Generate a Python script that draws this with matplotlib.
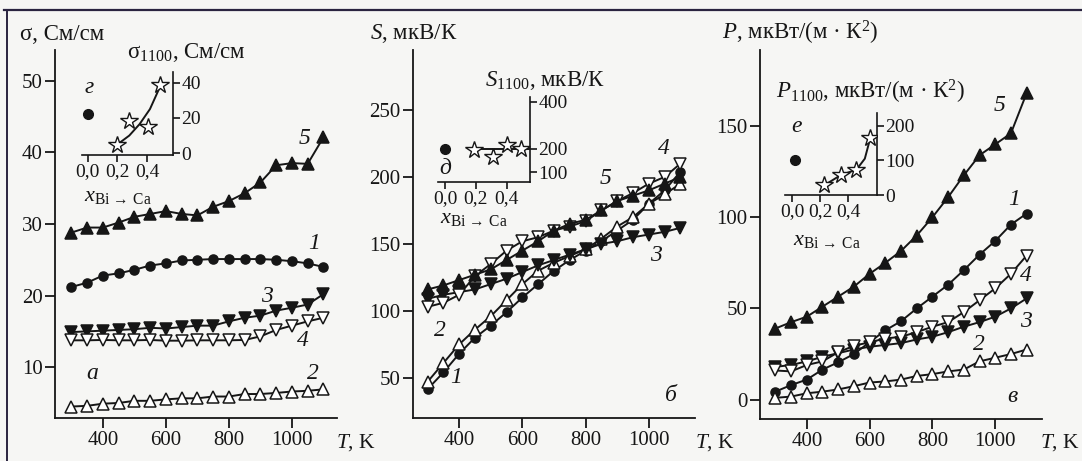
import numpy as np
import matplotlib.pyplot as plt
from matplotlib.lines import Line2D

plt.rcParams['font.family'] = ['Liberation Serif', 'DejaVu Serif']
plt.rcParams['mathtext.fontset'] = 'custom'
plt.rcParams['mathtext.rm'] = 'Liberation Serif'
plt.rcParams['mathtext.it'] = 'Liberation Serif:italic'
plt.rcParams['mathtext.bf'] = 'Liberation Serif:bold'

# temperature grid, K
T = [300, 350, 400, 450, 500, 550, 600, 650, 700, 750, 800, 850, 900, 950, 1000, 1050, 1100]

# (a) conductivity, См/см
sigma_1 = [21.2, 21.8, 22.8, 23.1, 23.6, 24.2, 24.5, 24.9, 25.0, 25.1, 25.1, 25.1, 25.1, 25.0, 24.8, 24.5, 24.0]
sigma_2 = [4.5, 4.6, 4.9, 5.0, 5.3, 5.3, 5.5, 5.65, 5.65, 5.9, 5.9, 6.25, 6.25, 6.4, 6.6, 6.7, 6.9]
sigma_3 = [14.9, 15.0, 15.1, 15.2, 15.3, 15.5, 15.4, 15.6, 15.8, 15.8, 16.4, 16.9, 17.2, 17.9, 18.3, 18.75, 20.2]
sigma_4 = [13.75, 13.75, 13.8, 13.75, 13.75, 13.8, 13.7, 13.7, 13.75, 13.75, 13.75, 13.8, 14.3, 15.2, 15.8, 16.4, 16.9]
sigma_5 = [28.8, 29.5, 29.5, 30.2, 31.0, 31.4, 31.8, 31.4, 31.2, 32.4, 33.2, 34.3, 35.8, 38.2, 38.5, 38.4, 42.1]

# (б) Seebeck coefficient, мкВ/К
seebeck_1 = [41.5, 54, 68, 80, 89, 99, 110, 120, 130, 138, 145, 152, 160, 168, 180, 190, 204]
seebeck_2 = [47, 61, 75, 86, 96, 108, 120, 130, 136, 141, 146, 154, 163, 170, 180, 187, 195]
seebeck_3 = [109, 112, 114, 116, 120, 124, 129, 134, 138, 142, 146, 150, 152, 155, 157, 159, 162]
seebeck_4 = [103, 106, 112, 126, 135, 145, 152, 155, 160, 163, 167, 175, 182, 188, 195, 200, 210]
seebeck_5 = [116, 119, 123, 127, 131, 138, 145, 152, 160, 165, 168, 175, 182, 186, 190, 195, 200]

# (в) power factor, мкВт/(м·К²)
power_1 = [4.4, 8, 11, 16.5, 20.5, 25, 31.5, 38, 43, 50, 56.5, 63, 71, 79.5, 87, 96, 102]
power_2 = [1, 1.7, 3.5, 4.4, 5.6, 7.4, 9.4, 10, 11, 13, 14, 15.5, 16.5, 21, 23, 25, 27.5]
power_3 = [18, 19, 21, 23.5, 25.5, 27.5, 29, 30, 31, 33, 34.5, 37, 40, 42.5, 45.5, 50, 55.5]
power_4 = [16, 15.5, 19, 21, 26, 29.5, 31.5, 33.5, 34.5, 37, 40, 42.5, 48, 54.5, 61, 69, 79]
power_5 = [39, 42.5, 45.5, 51, 56.5, 62, 69, 75, 81.5, 90, 100, 111, 123, 134, 140, 146, 168]

# insets: values at 1100 K vs Bi->Ca substitution
x_ref = [0.0]
x_sub = [0.2, 0.28, 0.41, 0.49]
sigma_ref = [22]
sigma_sub = [4.9, 18.4, 14.6, 38.4]
sigma_fit_x = [0.2, 0.28, 0.35, 0.42, 0.49]
sigma_fit_y = [5, 10, 16.5, 25, 38]

seebeck_x_sub = [0.19, 0.31, 0.40, 0.49]
seebeck_ref = [200]
seebeck_sub = [195, 165, 218, 200]
seebeck_fit_x = [0.19, 0.55]
seebeck_fit_y = [197, 197]

power_x_ref = [0.02]
power_x_sub = [0.23, 0.35, 0.46, 0.56]
power_ref = [100]
power_sub = [28, 59, 73, 166]
power_fit_x = [0.23, 0.35, 0.46, 0.52, 0.56]
power_fit_y = [28, 58, 73, 105, 166]

INK = '#161616'
W, H = 1082, 461

fig = plt.figure(figsize=(W / 100, H / 100), dpi=100, facecolor='#f6f6f4')


def box(left, top, right, bottom):
    return [left / W, 1 - bottom / H, (right - left) / W, (bottom - top) / H]


def px(x, y):
    return x / W, 1 - y / H


# marker style of curves 1..5
styles = [('o', True, 6.5), ('^', False, 8), ('v', True, 8), ('v', False, 8), ('^', True, 8)]


def draw_panel(rect, curves, xlim, ylim, yticks):
    ax = fig.add_axes(rect)
    ax.set_facecolor('none')
    order = [1, 3, 2, 0, 4]
    for i in order:
        m, filled, ms = styles[i]
        ax.plot(T, curves[i], color=INK, lw=1.4, marker=m, ms=ms,
                mfc=INK if filled else 'white', mec=INK, mew=1.1, zorder=3 + i)
    ax.set_xlim(*xlim)
    ax.set_ylim(*ylim)
    ax.set_xticks([400, 600, 800, 1000])
    ax.set_yticks(yticks)
    for s in ['top', 'right']:
        ax.spines[s].set_visible(False)
    for s in ['left', 'bottom']:
        ax.spines[s].set_linewidth(1.3)
        ax.spines[s].set_color(INK)
    ax.tick_params(direction='out', length=7, width=1.3, labelsize=15,
                   color=INK, labelcolor=INK, pad=2)
    return ax


def draw_inset(rect, xlim, ylim, yticks):
    ax = fig.add_axes(rect)
    ax.set_facecolor('none')
    ax.set_xlim(*xlim)
    ax.set_ylim(*ylim)
    ax.set_xticks([0.0, 0.2, 0.4])
    ax.set_xticklabels(['0,0', '0,2', '0,4'])
    ax.set_yticks(yticks)
    ax.yaxis.tick_right()
    for s in ['top', 'left']:
        ax.spines[s].set_visible(False)
    for s in ['right', 'bottom']:
        ax.spines[s].set_linewidth(1.2)
        ax.spines[s].set_color(INK)
    ax.tick_params(direction='out', length=5, width=1.2, labelsize=14,
                   color=INK, labelcolor=INK, pad=1)
    return ax


def inset_points(ax, xr, yr, xs, ys, fx, fy):
    ax.plot(fx, fy, color=INK, lw=1.4, zorder=2)
    ax.plot(xr, yr, 'o', color=INK, ms=7, zorder=3)
    ax.plot(xs, ys, '*', ms=13, mfc='white', mec=INK, mew=1.0, zorder=4)


lab = dict(fontsize=17, style='italic', color=INK, ha='center', va='center')

# ---- panel а: sigma
ax1 = draw_panel(box(55, 50, 337, 418),
                 [sigma_1, sigma_2, sigma_3, sigma_4, sigma_5],
                 (248, 1143), (2.9, 54.3), [10, 20, 30, 40, 50])
for s, (tx, ty) in zip(['5', '1', '3', '4', '2', 'а'],
                       [(1040, 42), (1070, 27.3), (920, 19.9), (1035, 13.7), (1067, 9.1), (365, 9.1)]):
    ax1.text(tx, ty, s, **lab)

in1 = draw_inset(box(82, 72, 173, 155), (-0.04, 0.576), (-1, 46), [0, 20, 40])
inset_points(in1, x_ref, sigma_ref, x_sub, sigma_sub, sigma_fit_x, sigma_fit_y)
in1.text(0.01, 37, 'г', **lab)

# ---- panel б: Seebeck
ax2 = draw_panel(box(413, 50, 695, 418),
                 [seebeck_1, seebeck_2, seebeck_3, seebeck_4, seebeck_5],
                 (254, 1146), (20, 294.8), [50, 100, 150, 200, 250])
for s, (tx, ty) in zip(['4', '5', '3', '2', '1', 'б'],
                       [(1048, 221), (863, 198.5), (1022, 141), (340, 85), (390, 50), (1070, 36.5)]):
    ax2.text(tx, ty, s, **lab)

in2 = draw_inset(box(438, 97, 530, 182), (-0.045, 0.55), (58, 421), [100, 200, 400])
inset_points(in2, x_ref, seebeck_ref, seebeck_x_sub, seebeck_sub, seebeck_fit_x, seebeck_fit_y)
in2.text(0.0, 115, 'д', **lab)

# ---- panel в: power factor
ax3 = draw_panel(box(760, 50, 1042, 419),
                 [power_1, power_2, power_3, power_4, power_5],
                 (251, 1149), (-10.6, 191.7), [0, 50, 100, 150])
for s, (tx, ty) in zip(['5', '1', '4', '3', '2', 'в'],
                       [(1013, 161), (1060, 110), (1098, 68), (1098, 43), (949, 30.5), (1054, 1.7)]):
    ax3.text(tx, ty, s, **lab)

in3 = draw_inset(box(785, 113, 877, 195), (-0.05, 0.607), (0, 237), [0, 100, 200])
inset_points(in3, power_x_ref, power_ref, power_x_sub, power_sub, power_fit_x, power_fit_y)
in3.text(0.035, 197, 'е', **lab)

# axis titles
tk = dict(fontsize=16.5, color=INK, va='center')
fig.text(*px(20, 35), 'σ, См/см', ha='left', **tk)
fig.text(*px(370, 33), '$S$, мкВ/К', ha='left', **tk)
fig.text(*px(722, 33), '$P$, мкВт/(м · К$^2$)', ha='left', **tk)
fig.text(*px(186, 53), 'σ$_{1100}$, См/см', ha='center', **tk)
fig.text(*px(545, 80), '$S_{1100}$, мкВ/К', ha='center', **tk)
fig.text(*px(871, 92), '$P_{1100}$, мкВт/(м · К$^2$)', ha='center', **tk)
for cx, cy in [(118, 196), (474, 218), (827, 240)]:
    fig.text(*px(cx, cy), r'$x_{\mathrm{Bi}\,\rightarrow\,\mathrm{Ca}}$', ha='center',
             fontsize=16, color=INK, va='center')
for lx in [336, 695, 1040]:
    fig.text(*px(lx, 443), '$T$, K', ha='left', fontsize=15.5, color=INK, va='center')

# scan frame
fig.add_artist(Line2D([0.004, 1.0], [1 - 10 / H, 1 - 10 / H], color='#2a2440', lw=1.6))
fig.add_artist(Line2D([7 / W, 7 / W], [0, 1 - 10 / H], color='#2a2440', lw=1.4))

fig.savefig('out.png', dpi=100, facecolor=fig.get_facecolor())
